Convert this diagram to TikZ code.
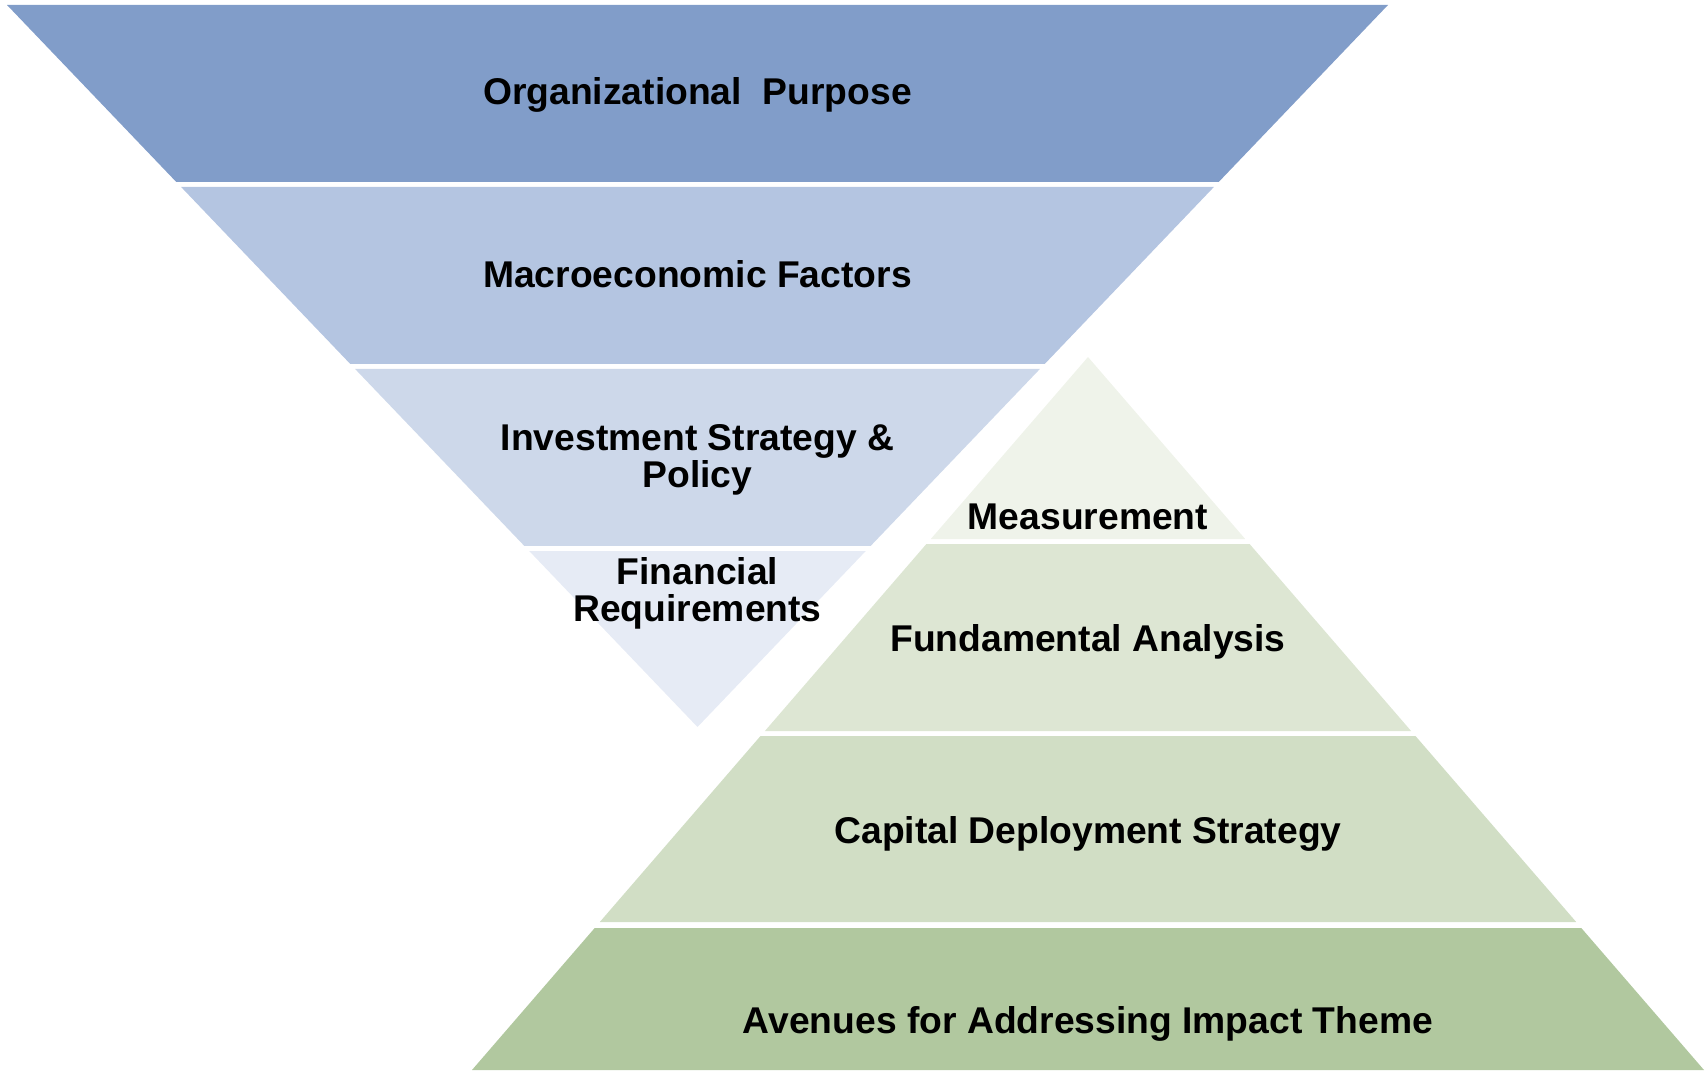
\documentclass[tikz,border=0pt]{standalone}
\usepackage{fontspec}
\setmainfont{Liberation Sans}
\definecolor{blueA}{RGB}{129,157,201}
\definecolor{blueB}{RGB}{180,197,225}
\definecolor{blueC}{RGB}{205,216,234}
\definecolor{blueD}{RGB}{230,235,245}
\definecolor{greenA}{RGB}{239,243,234}
\definecolor{greenB}{RGB}{221,230,211}
\definecolor{greenC}{RGB}{209,222,197}
\definecolor{greenD}{RGB}{177,200,159}
\begin{document}
\begin{tikzpicture}[lbl/.style={inner sep=0pt, anchor=base, align=center, font=\bfseries\fontsize{10.6}{10.7}\selectfont}]
		\useasboundingbox (0,0) rectangle (17.05,10.7);
		
		% inverted triangle
		\fill[blueA] (0.07,10.65) -- (13.88,10.65) -- (12.187,8.88) -- (1.763,8.88) -- cycle;
		\fill[blueB] (1.811,8.83) -- (12.139,8.83) -- (10.447,7.06) -- (3.503,7.06) -- cycle;
		\fill[blueC] (3.551,7.01) -- (10.399,7.01) -- (8.706,5.24) -- (5.244,5.24) -- cycle;
		\fill[blueD] (5.292,5.19) -- (8.658,5.19) -- (6.975,3.43) -- cycle;
		
		% pyramid
		\fill[greenA] (10.88,7.13) -- (12.452,5.31) -- (9.308,5.31) -- cycle;
		\fill[greenB] (9.264,5.26) -- (12.496,5.26) -- (14.111,3.39) -- (7.649,3.39) -- cycle;
		\fill[greenC] (7.605,3.34) -- (14.155,3.34) -- (15.762,1.48) -- (5.998,1.48) -- cycle;
		\fill[greenD] (5.947,1.42) -- (15.813,1.42) -- (17.04,0) -- (4.72,0) -- cycle;
		
		\node[lbl] (purpose) at (6.975,9.65) {Organizational\ \ Purpose};
		\node[lbl] (macro) at (6.975,7.82) {Macroeconomic Factors};
		\node[lbl] (policy) at (6.975,5.82) {Investment Strategy \&\\Policy};
		\node[lbl] (finreq) at (6.975,4.48) {Financial\\Requirements};
		
		\node[lbl] (measure) at (10.88,5.41) {Measurement};
		\node[lbl] (fundamental) at (10.88,4.19) {Fundamental Analysis};
		\node[lbl] (capital) at (10.88,2.27) {Capital Deployment Strategy};
		\node[lbl] (avenues) at (10.88,0.37) {Avenues for Addressing Impact Theme};
		\end{tikzpicture}
\end{document}
